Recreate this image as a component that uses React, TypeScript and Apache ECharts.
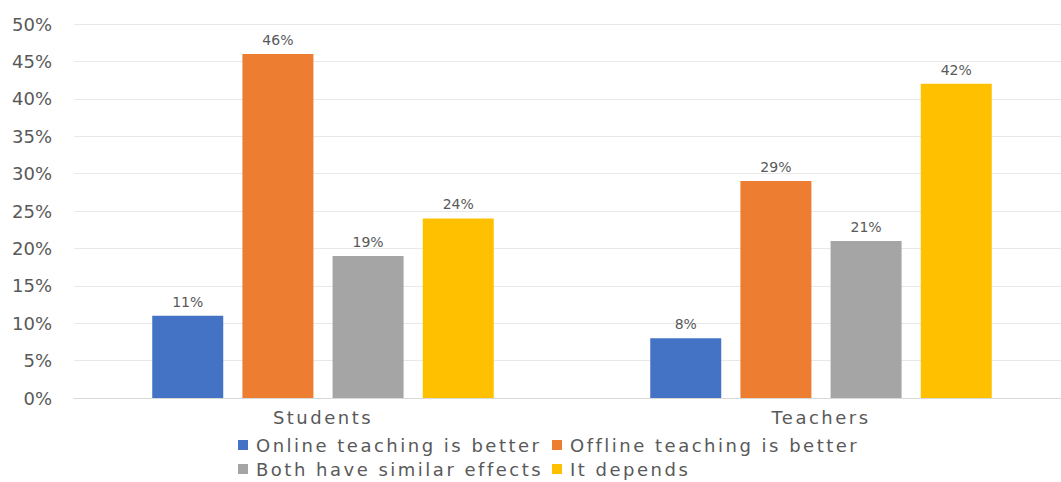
import React, { useEffect, useRef } from "react";
import * as echarts from "echarts";

const categories = ["Students", "Teachers"];
const seriesNames = [
  "Online teaching is better",
  "Offline teaching is better",
  "Both have similar effects",
  "It depends",
];
const onlineBetter = [11, 8];
const offlineBetter = [46, 29];
const similarEffects = [19, 21];
const itDepends = [24, 42];
const colors = ["#4472C4", "#ED7D31", "#A5A5A5", "#FFC000"];
const yTicks = { min: 0, max: 50, interval: 5 };

const FONT = "DejaVu Sans";
const WIDE_FONT = "DejaVu Sans, sans-serif";

const legendPos = [
  { left: 238, top: 436 },
  { left: 552, top: 436 },
  { left: 238, top: 460 },
  { left: 552, top: 460 },
];

export default function App() {
  const ref = useRef<HTMLDivElement>(null);
  useEffect(() => {
    if (!ref.current) return;
    const chart = echarts.init(ref.current, undefined, { renderer: "svg" });
    const values = [onlineBetter, offlineBetter, similarEffects, itDepends];
    chart.setOption({
      animation: false,
      color: colors,
      grid: { left: 74, right: 8, top: 24, bottom: 84, containLabel: false },
      xAxis: {
        type: "category",
        data: categories,
        axisTick: { show: false },
        axisLine: { lineStyle: { color: "#D9D9D9", width: 1 } },
        axisLabel: { color: "#595959", fontSize: 18, fontFamily: WIDE_FONT, margin: 10 },
      },
      yAxis: {
        type: "value",
        min: yTicks.min,
        max: yTicks.max,
        interval: yTicks.interval,
        axisLine: { show: false },
        axisTick: { show: false },
        splitLine: { lineStyle: { color: "#E8E8E8", width: 1 } },
        axisLabel: {
          color: "#595959",
          fontSize: 18,
          fontFamily: FONT,
          margin: 22,
          formatter: "{value}%",
        },
      },
      legend: seriesNames.map((name, i) => ({
        data: [name],
        left: legendPos[i].left,
        top: legendPos[i].top,
        padding: 0,
        itemWidth: 10,
        itemHeight: 10,
        icon: "rect",
        textStyle: {
          color: "#595959",
          fontSize: 18,
          fontFamily: WIDE_FONT,
          padding: [0, 0, 0, 3],
        },
      })),
      series: seriesNames.map((name, i) => ({
        name,
        type: "bar",
        data: values[i],
        barWidth: 71,
        barGap: "27%",
        itemStyle: { color: colors[i] },
        label: {
          show: true,
          position: "top",
          distance: 7,
          formatter: "{c}%",
          color: "#595959",
          fontSize: 14,
          fontFamily: FONT,
        },
      })),
    });
    return () => chart.dispose();
  }, []);
  return (
    <>
      <style>{`#chart-box svg text[style*="sans-serif"] { letter-spacing: 2.5px; }`}</style>
      <div
        style={{ position: "fixed", left: 0, top: 0, width: 1061, height: 482, overflow: "hidden", background: "#fff" }}
      >
        <div id="chart-box" ref={ref} style={{ width: 1078, height: 482 }} />
      </div>
    </>
  );
}
